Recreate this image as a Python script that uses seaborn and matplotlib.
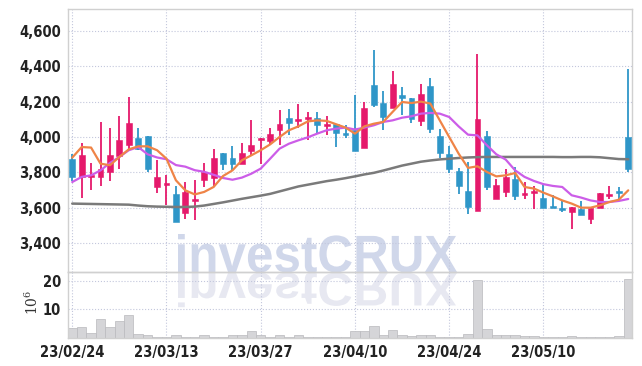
import numpy as np
import pandas as pd
import seaborn as sns
import matplotlib
matplotlib.use("Agg")
import matplotlib.pyplot as plt
from matplotlib import font_manager
from matplotlib.textpath import TextPath
from matplotlib.patches import PathPatch
from matplotlib.font_manager import FontProperties
from matplotlib.transforms import Affine2D
from matplotlib.ticker import FuncFormatter

# Daily OHLC (KRW)
opens = [3874, 3774, 3774, 3774, 3802, 3892, 3957, 3994, 4005, 3717,
         3728, 3675, 3571, 3638, 3758, 3768, 3911, 3879, 3849, 3921,
         3985, 3977, 4042, 4106, 4090, 4104, 4109, 4062, 4075, 4025,
         4042, 3938, 4292, 4192, 4164, 4236, 4223, 4091, 4291, 4004,
         3906, 3806, 3692, 3581, 4004, 3651, 3689, 3760, 3672, 3683,
         3657, 3609, 3600, 3574, 3594, 3538, 3600, 3666, 3687, 4000]
highs = [3903, 3964, 3850, 4086, 4051, 4119, 4227, 4053, 4005, 3868,
         3787, 3723, 3747, 3758, 3855, 3934, 3911, 3949, 3966, 4098,
         3992, 4053, 4155, 4160, 4189, 4142, 4142, 4117, 4075, 4066,
         4240, 4198, 4494, 4260, 4374, 4283, 4223, 4298, 4331, 4047,
         3947, 3826, 3858, 4472, 4034, 3764, 3821, 3830, 3745, 3723,
         3726, 3674, 3638, 3606, 3638, 3600, 3685, 3723, 3717, 4387]
lows = [3750, 3654, 3699, 3723, 3751, 3821, 3934, 3924, 3803, 3685,
        3613, 3519, 3536, 3532, 3717, 3717, 3811, 3815, 3845, 3896,
        3849, 3953, 3953, 4009, 4053, 3981, 4019, 4009, 3943, 3994,
        3921, 3938, 4170, 4038, 4164, 4123, 4079, 4060, 4025, 3883,
        3796, 3679, 3566, 3581, 3698, 3651, 3660, 3641, 3651, 3594,
        3598, 3598, 3575, 3477, 3560, 3509, 3600, 3651, 3651, 3802]
closes = [3774, 3896, 3783, 3817, 3896, 3981, 4081, 3930, 3818, 3774,
          3736, 3519, 3686, 3645, 3802, 3883, 3849, 3849, 3911, 3953,
          3992, 4019, 4072, 4079, 4096, 4108, 4070, 4075, 4023, 4011,
          3921, 4166, 4179, 4113, 4302, 4221, 4104, 4242, 4045, 3909,
          3817, 3723, 3604, 4100, 3717, 3726, 3774, 3666, 3685, 3696,
          3598, 3598, 3585, 3606, 3560, 3600, 3685, 3679, 3683, 3821]

# moving averages as drawn
ma_short = [3883, 3943, 3940, 3849, 3840, 3887, 3930, 3947, 3947, 3925,
            3877, 3755, 3698, 3675, 3689, 3717, 3779, 3811, 3868, 3896,
            3925, 3958, 4000, 4038, 4060, 4088, 4094, 4091, 4072, 4053,
            4019, 4060, 4075, 4085, 4142, 4198, 4192, 4200, 4189, 4094,
            4000, 3906, 3825, 3834, 3802, 3777, 3783, 3796, 3717, 3708,
            3685, 3664, 3641, 3623, 3600, 3600, 3613, 3632, 3645, 3698]
ma_mid = [3745, 3774, 3783, 3811, 3853, 3887, 3925, 3943, 3902, 3884,
          3874, 3841, 3832, 3812, 3803, 3786, 3768, 3758, 3770, 3792,
          3821, 3877, 3934, 3962, 3981, 3998, 4019, 4038, 4047, 4053,
          4042, 4053, 4066, 4085, 4094, 4109, 4117, 4132, 4136, 4132,
          4113, 4060, 4013, 4009, 3953, 3902, 3872, 3811, 3774, 3751,
          3733, 3723, 3717, 3670, 3657, 3641, 3632, 3632, 3638, 3649]
ma_long = [3623, 3622, 3621, 3620, 3619, 3618, 3617, 3612, 3608, 3606,
           3605, 3604, 3604, 3606, 3612, 3621, 3630, 3640, 3650, 3659,
           3668, 3678, 3692, 3706, 3720, 3730, 3740, 3750, 3758, 3767,
           3777, 3788, 3797, 3810, 3824, 3838, 3849, 3860, 3867, 3873,
           3877, 3881, 3884, 3886, 3887, 3887, 3887, 3887, 3887, 3887,
           3887, 3887, 3886, 3886, 3887, 3887, 3885, 3880, 3875, 3874]

# volume in millions of shares
volume = [3.5, 3.9, 1.8, 6.6, 3.9, 5.9, 8.0, 1.5, 1.0, 0.5,
          0.5, 0.9, 0.5, 0.5, 0.9, 0.5, 0.5, 0.9, 0.9, 2.3,
          0.9, 0.5, 0.9, 0.5, 0.9, 0.5, 0.5, 0.5, 0.5, 0.5,
          2.4, 2.4, 4.1, 1.0, 2.8, 1.0, 0.6, 1.0, 1.0, 0.5,
          0.5, 0.5, 1.4, 20.2, 3.2, 1.0, 1.0, 1.0, 0.6, 0.6,
          0.5, 0.5, 0.4, 0.7, 0.4, 0.4, 0.4, 0.4, 0.7, 20.7]

date_labels = ["23/02/24", "23/03/13", "23/03/27", "23/04/10", "23/04/24", "23/05/10"]
date_pos = [0, 10, 20, 30, 40, 50]
price_ticks = [3400, 3600, 3800, 4000, 4200, 4400, 4600]

RED = "#e5196b"
BLUE = "#2f96c8"
GRID = "#c3c7dc"
SPINE = "#d0d0d0"

df = pd.DataFrame({"open": opens, "high": highs, "low": lows, "close": closes,
                   "ma_short": ma_short, "ma_mid": ma_mid, "ma_long": ma_long,
                   "volume": volume})
df["x"] = np.arange(len(df))
df["up"] = df["close"] >= df["open"]

sns.set_style("white")
plt.rcParams["font.family"] = ["Roboto", "DejaVu Sans"]

# tick font: a narrow bold face if one is around, Roboto otherwise
tick_font = None
for f in font_manager.fontManager.ttflist:
    fn = f.fname.lower()
    if ("narrow" in fn or "condensed" in fn) and "bold" in fn and "italic" not in fn \
            and "oblique" not in fn and "mono" not in fn and "serif" not in fn:
        tick_font = FontProperties(fname=f.fname, size=10.5)
        break
if tick_font is None:
    tick_font = FontProperties(family=["Roboto", "DejaVu Sans"], weight="bold", size=9.5)

fig = plt.figure(figsize=(6.42, 3.66), dpi=100)
ax = fig.add_axes([68 / 642, 94 / 366, 564 / 642, 263 / 366])
axv = fig.add_axes([68 / 642, 28 / 366, 564 / 642, 66 / 366], sharex=ax)
for a in (ax, axv):
    a.set_facecolor("none")

# watermark with reflection
fp = FontProperties(family=["Liberation Sans", "DejaVu Sans"], weight="bold")
tp = TextPath((0, 0), "investCRUX", size=50, prop=fp)
ext = tp.get_extents()
sx = 279 / ext.width
sy = 38 / ext.y1
wm = PathPatch(tp, transform=Affine2D().scale(sx, sy).translate(178 - ext.x0 * sx, 94),
               facecolor="#d0d7ea", edgecolor="none", zorder=-1)
wm_ref = PathPatch(tp, transform=Affine2D().scale(sx, -sy * 0.9).translate(178 - ext.x0 * sx, 93),
                   facecolor="#e7e8f1", edgecolor="none", zorder=-1)
fig.add_artist(wm)
fig.add_artist(wm_ref)

# candles
colors = np.where(df["up"], RED, BLUE)
ax.vlines(df["x"], df["low"], df["high"], colors=colors, lw=1.3, zorder=2)
body_bottom = np.minimum(df["open"], df["close"])
body_height = np.maximum((df["close"] - df["open"]).abs(), 9)
ax.bar(df["x"], body_height, bottom=body_bottom, width=0.62, color=colors,
       edgecolor=colors, linewidth=0.4, zorder=3)

# moving averages
sns.lineplot(data=df, x="x", y="ma_long", ax=ax, color="#7a7a7a", lw=1.8, zorder=4)
sns.lineplot(data=df, x="x", y="ma_mid", ax=ax, color="#cc5de8", lw=1.6, zorder=4)
sns.lineplot(data=df, x="x", y="ma_short", ax=ax, color="#ef8447", lw=1.6, zorder=5)

# volume
axv.bar(df["x"], df["volume"], width=1.0, color="#d5d5d8", edgecolor="#b9b9bd",
        linewidth=0.5, zorder=2)

ax.set_xlim(-0.45, 59.4)
ax.set_ylim(3236, 4724)
ax.set_yticks(price_ticks)
ax.yaxis.set_major_formatter(FuncFormatter(lambda v, p: f"{v:,.0f}"))
ax.set_xticks(date_pos)
ax.tick_params(axis="x", labelbottom=False)
axv.set_ylim(0, 23)
axv.set_yticks([10, 20])
axv.set_xticks(date_pos)
axv.set_xticklabels(date_labels)

for a in (ax, axv):
    a.set_xlabel("")
    a.set_ylabel("")
    a.grid(True, ls=":", color=GRID, lw=0.8)
    a.set_axisbelow(True)
    a.tick_params(length=0, labelcolor="#222222", pad=5)
    for lab in a.get_xticklabels() + a.get_yticklabels():
        lab.set_fontproperties(tick_font)
    for s in a.spines.values():
        s.set_color(SPINE)
        s.set_linewidth(1.0)

fig.text(32 / 642, 1 - 302 / 366, r"$\mathregular{10^6}$", rotation=90,
         ha="center", va="center", fontsize=10, family="DejaVu Serif", color="#333333")

fig.savefig("out.png", dpi=100, facecolor="white")
